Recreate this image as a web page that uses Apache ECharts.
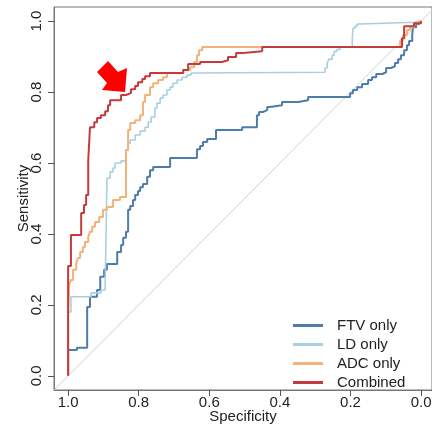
<!DOCTYPE html>
<html>
<head>
<meta charset="utf-8">
<script src="https://cdn.jsdelivr.net/npm/echarts@6/dist/echarts.min.js"></script>
<style>
html, body { margin: 0; padding: 0; background: #fff; }
#chart { width: 432px; height: 425px; }
</style>
</head>
<body>
<div id="chart"></div>
<script>
// ROC curves, specificity (x, reversed) against sensitivity (y)
var tickValues = [0, 0.2, 0.4, 0.6, 0.8, 1.0];
var seriesNames = ['FTV only', 'LD only', 'ADC only', 'Combined'];

// each point: vertical step first, then horizontal to the next specificity
var ftvSpec = [1.0, 0.975, 0.946, 0.938, 0.918, 0.909, 0.898, 0.890, 0.861, 0.850, 0.844, 0.836, 0.830, 0.824, 0.816, 0.810, 0.802, 0.796, 0.788, 0.776, 0.768, 0.759, 0.711, 0.635, 0.626, 0.618, 0.606, 0.581, 0.507, 0.465, 0.459, 0.448, 0.436, 0.428, 0.394, 0.348, 0.320, 0.201, 0.193, 0.181, 0.167, 0.150, 0.139, 0.127, 0.110, 0.099, 0.085, 0.074, 0.065, 0.057, 0.048, 0.040, 0.034, 0.025, 0.023, 0.014, 0.006, 0.0, 0.0];
var ftvSens = [0, 0.073, 0.079, 0.194, 0.223, 0.242, 0.279, 0.299, 0.315, 0.349, 0.369, 0.389, 0.406, 0.468, 0.479, 0.496, 0.510, 0.521, 0.532, 0.541, 0.561, 0.580, 0.589, 0.614, 0.639, 0.648, 0.659, 0.668, 0.693, 0.701, 0.735, 0.744, 0.749, 0.758, 0.763, 0.772, 0.777, 0.786, 0.797, 0.806, 0.814, 0.823, 0.834, 0.842, 0.851, 0.856, 0.868, 0.873, 0.882, 0.893, 0.904, 0.918, 0.932, 0.944, 0.961, 0.983, 0.992, 0.997, 1.0];

var ldSpec = [1.0, 0.992, 0.935, 0.907, 0.895, 0.890, 0.881, 0.873, 0.867, 0.850, 0.836, 0.830, 0.824, 0.810, 0.796, 0.782, 0.773, 0.765, 0.754, 0.748, 0.739, 0.731, 0.720, 0.711, 0.703, 0.691, 0.677, 0.663, 0.652, 0.637, 0.272, 0.266, 0.261, 0.252, 0.246, 0.238, 0.229, 0.195, 0.193, 0.187, 0.181, 0.173, 0.017, 0.0];
var ldSens = [0, 0.180, 0.223, 0.234, 0.242, 0.251, 0.558, 0.575, 0.586, 0.600, 0.606, 0.637, 0.656, 0.665, 0.679, 0.690, 0.701, 0.715, 0.730, 0.755, 0.769, 0.783, 0.792, 0.806, 0.814, 0.825, 0.834, 0.842, 0.848, 0.854, 0.856, 0.868, 0.882, 0.893, 0.904, 0.915, 0.921, 0.927, 0.946, 0.980, 0.986, 0.992, 0.997, 1.0];

var adcSpec = [1.0, 0.997, 0.992, 0.986, 0.977, 0.972, 0.966, 0.958, 0.952, 0.943, 0.938, 0.932, 0.924, 0.912, 0.901, 0.890, 0.873, 0.853, 0.836, 0.830, 0.824, 0.810, 0.796, 0.788, 0.782, 0.768, 0.759, 0.745, 0.731, 0.720, 0.674, 0.654, 0.643, 0.635, 0.629, 0.620, 0.059, 0.051, 0.040, 0.031, 0.020, 0.008, 0.0];
var adcSens = [0, 0.180, 0.256, 0.270, 0.299, 0.318, 0.332, 0.349, 0.363, 0.377, 0.392, 0.406, 0.420, 0.434, 0.448, 0.468, 0.476, 0.496, 0.504, 0.637, 0.693, 0.713, 0.721, 0.735, 0.772, 0.792, 0.814, 0.825, 0.834, 0.842, 0.854, 0.862, 0.870, 0.885, 0.904, 0.918, 0.927, 0.946, 0.961, 0.975, 0.983, 0.994, 1.0];

var combSpec = [1.0, 0.992, 0.963, 0.955, 0.949, 0.943, 0.938, 0.926, 0.918, 0.907, 0.895, 0.887, 0.881, 0.850, 0.836, 0.822, 0.810, 0.802, 0.790, 0.782, 0.768, 0.674, 0.660, 0.626, 0.564, 0.547, 0.524, 0.504, 0.450, 0.054, 0.048, 0.020, 0.0, 0.0];
var combSens = [0, 0.310, 0.397, 0.459, 0.482, 0.510, 0.608, 0.701, 0.715, 0.727, 0.735, 0.746, 0.763, 0.777, 0.792, 0.797, 0.808, 0.817, 0.828, 0.837, 0.845, 0.854, 0.862, 0.879, 0.885, 0.890, 0.899, 0.910, 0.915, 0.927, 0.952, 0.986, 0.994, 1.0];

// chance line runs corner to corner of the plot box
var diagSpec = [1.04, -0.04];
var diagSens = [-0.04, 1.04];

var colors = ['#4d7dab', '#a9cfe1', '#f2b37b', '#c73a3c'];
var fontFamily = "'Liberation Sans', Arial, sans-serif";
var axisColor = '#555';
var textColor = '#222';

function pairs(xs, ys) {
  return xs.map(function (x, i) { return [x, ys[i]]; });
}
function fmt(v) { return v.toFixed(1); }

function rocSeries(name, xs, ys, color, width) {
  return {
    name: name,
    type: 'line',
    step: 'start',
    data: pairs(xs, ys),
    symbol: 'none',
    color: color,
    lineStyle: { color: color, width: width },
    silent: true
  };
}

var chart = echarts.init(document.getElementById('chart'));

var option = {
  animation: false,
  backgroundColor: '#fff',
  textStyle: { fontFamily: fontFamily },
  grid: {
    left: 54, right: 0, top: 7, bottom: 35,
    outerBoundsMode: 'none',
    containLabel: false,
    show: true, borderColor: '#777', borderWidth: 1
  },
  xAxis: {
    type: 'value', inverse: true, min: -0.031, max: 1.04,
    name: 'Specificity', nameLocation: 'middle', nameGap: 19, nameMoveOverlap: false,
    nameTextStyle: { fontSize: 15, color: textColor, fontFamily: fontFamily },
    axisLine: { show: true, onZero: false, lineStyle: { color: '#777', width: 1 } },
    axisTick: { show: true, length: 6, lineStyle: { color: axisColor }, customValues: tickValues },
    axisLabel: { fontSize: 15, color: textColor, margin: 5, customValues: tickValues, formatter: fmt },
    splitLine: { show: false }
  },
  yAxis: {
    type: 'value', min: -0.04, max: 1.04,
    name: 'Sensitivity', nameLocation: 'middle', nameGap: 23, nameMoveOverlap: false,
    nameTextStyle: { fontSize: 15, color: textColor, fontFamily: fontFamily },
    axisLine: { show: true, onZero: false, lineStyle: { color: '#777', width: 1 } },
    axisTick: { show: true, length: 6, lineStyle: { color: axisColor }, customValues: tickValues },
    axisLabel: { fontSize: 15, color: textColor, margin: 10, rotate: 90, customValues: tickValues, formatter: fmt },
    splitLine: { show: false }
  },
  legend: {
    orient: 'vertical', left: 288, top: 311,
    icon: 'rect',
    itemWidth: 30, itemHeight: 3, itemGap: 0,
    data: seriesNames,
    textStyle: { fontSize: 15, lineHeight: 19, color: textColor, padding: [0, 0, 0, 9] }
  },
  graphic: [{
    type: 'polygon',
    z: 100,
    shape: { points: [[108, 61], [118, 72], [127, 68], [125, 92], [102, 90], [107, 83], [97, 72]] },
    style: { fill: '#ff0000' }
  }],
  series: [
    {
      name: 'diag', type: 'line', data: pairs(diagSpec, diagSens),
      symbol: 'none', silent: true,
      lineStyle: { color: '#cfcfcf', width: 1 }
    },
    rocSeries(seriesNames[0], ftvSpec, ftvSens, colors[0], 2),
    rocSeries(seriesNames[1], ldSpec, ldSens, colors[1], 1.6),
    rocSeries(seriesNames[2], adcSpec, adcSens, colors[2], 2),
    rocSeries(seriesNames[3], combSpec, combSens, colors[3], 2)
  ]
};

chart.setOption(option);
</script>
</body>
</html>
